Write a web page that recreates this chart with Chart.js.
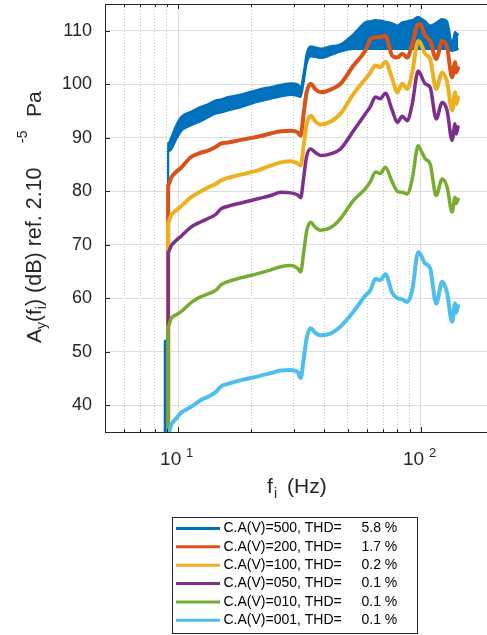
<!DOCTYPE html>
<html>
<head>
<meta charset="utf-8">
<script src="https://cdn.jsdelivr.net/npm/chart.js@4"></script>
<style>
html, body { margin:0; padding:0; overflow:hidden; background:#fff; }
#wrap { width:494px; height:635px; }
</style>
</head>
<body>
<div id="wrap"><canvas id="myChart" width="494" height="635"></canvas></div>
<script>
// frequencies (Hz)
var freq = [9.1, 9.1, 9.36, 9.81, 10.29, 11.31, 12.43, 13.28, 14.32, 15.01,
	16.04, 18.14, 21.30, 24.07, 26.47, 29.09, 31.07, 31.97, 32.89, 33.83,
	35.14, 36.84, 38.63, 42.45, 46.66, 52.77, 59.08, 61.94, 64.94, 68.08,
	71.38, 76.24, 79.93, 83.79, 87.85, 92.10, 97.48, 99.34, 104.1, 109.2,
	115.6, 122.3, 128.2, 134.4, 138.3, 139.6, 142.2];

// C.A(V)=500 : noisy band, upper and lower edge
var blueHi = [30, 89.0, 90.0, 92.3, 93.9, 94.9, 95.8, 96.3, 97.0, 97.2,
	97.6, 98.1, 99.0, 99.5, 99.9, 100.2, 100.0, 99.5, 102.2, 105.7,
	107.1, 106.9, 106.7, 107.1, 107.5, 109.4, 111.6, 111.8, 112.0, 111.9,
	111.7, 111.4, 111.0, 111.6, 111.8, 112.0, 112.6, 112.4, 111.8, 111.0,
	111.5, 112.2, 111.8, 107.8, 109.8, 109.6, 109.3];
var blueLo = [30, 87.5, 87.8, 89.6, 91.2, 92.3, 93.1, 93.8, 94.5, 94.7,
	95.1, 95.7, 96.7, 97.3, 97.7, 98.0, 97.8, 97.6, 100.3, 103.8,
	105.2, 105.1, 104.9, 105.4, 106.1, 106.6, 106.6, 106.6, 106.6, 106.6,
	106.6, 106.6, 106.6, 106.6, 106.6, 106.6, 106.6, 106.6, 106.6, 106.6,
	106.6, 106.6, 106.6, 106.2, 106.4, 106.4, 106.6];
var spikeFreq = [8.85, 8.85];
var spikeVals = [30, 52];

var redVals = [30, 81.1, 82.5, 83.6, 84.4, 86.4, 87.2, 87.6, 88.3, 88.9,
	89.1, 89.6, 90.2, 90.8, 91.2, 91.3, 91.0, 90.4, 94.5, 98.5,
	100.1, 99.0, 98.5, 99.0, 100.1, 103.5, 106.3, 108.4, 108.8, 108.8,
	109.1, 105.3, 105.0, 105.7, 105.0, 107.5, 111.2, 111.2, 109.1, 108.1,
	104.7, 108.1, 106.9, 101.3, 104.1, 102.2, 103.0];
var yellowVals = [30, 74.2, 75.5, 76.4, 77.2, 78.9, 80.0, 80.7, 81.4, 82.0,
	82.5, 83.1, 83.9, 84.8, 85.4, 85.6, 85.2, 84.8, 88.5, 92.5,
	94.1, 93.0, 92.5, 93.0, 94.5, 98.2, 101.0, 102.2, 103.5, 103.2,
	104.2, 101.0, 98.5, 100.1, 99.1, 102.2, 108.1, 107.8, 105.7, 104.7,
	99.1, 102.2, 100.4, 95.1, 98.5, 96.3, 97.5];
var purpleVals = [30, 68.6, 69.8, 70.8, 71.6, 73.3, 74.3, 74.9, 75.7, 76.7,
	77.2, 77.8, 78.6, 79.2, 79.8, 79.7, 79.3, 78.8, 82.5, 86.5,
	87.9, 87.2, 86.7, 87.0, 87.9, 91.3, 94.5, 95.8, 97.6, 97.3,
	98.3, 95.1, 92.9, 94.0, 93.2, 96.3, 102.5, 102.0, 100.1, 99.4,
	93.5, 96.6, 95.1, 89.5, 92.6, 90.7, 92.0];
var greenVals = [30, 54.7, 56.2, 56.9, 57.5, 59.2, 60.3, 60.8, 61.5, 62.5,
	63.1, 63.8, 64.6, 65.3, 65.9, 66.1, 65.6, 64.9, 68.5, 72.5,
	74.2, 73.2, 72.7, 73.2, 74.9, 78.3, 80.5, 81.8, 83.6, 83.3,
	84.5, 81.7, 80.0, 79.8, 79.5, 82.3, 88.5, 87.9, 86.1, 85.1,
	79.2, 82.3, 80.8, 76.1, 78.9, 77.7, 78.5];
var lightVals = [30, 34.5, 36.3, 37.5, 38.6, 39.7, 41.0, 41.6, 42.5, 43.5,
	44.0, 44.7, 45.4, 46.0, 46.5, 46.6, 46.2, 45.1, 48.5, 52.5,
	54.4, 53.5, 53.1, 53.4, 54.7, 57.5, 60.5, 61.5, 63.6, 63.4,
	64.5, 61.0, 60.0, 59.8, 59.3, 61.5, 68.6, 68.3, 66.5, 65.6,
	59.0, 63.1, 61.0, 55.6, 59.0, 57.3, 58.5];

// axis ticks
var xMajor = [10, 100];
var xExp = ['1', '2'];
var xMinor = [6, 7, 8, 9, 20, 30, 40, 50, 60, 70, 80, 90, 200];
var yTicks = [40, 50, 60, 70, 80, 90, 100, 110];

// legend
var legendNames = ['C.A(V)=500, THD=', 'C.A(V)=200, THD=', 'C.A(V)=100, THD=',
	'C.A(V)=050, THD=', 'C.A(V)=010, THD=', 'C.A(V)=001, THD='];
var legendThd = ['5.8 %', '1.7 %', '0.2 %', '0.1 %', '0.1 %', '0.1 %'];
var colors = ['#0072BD', '#D95319', '#EDB120', '#7E2F8E', '#77AC30', '#4DBEEE'];

var fam = '"Liberation Sans", Arial, Helvetica, sans-serif';
var axisColor = '#262626';
Chart.defaults.font.family = fam;

function pts(xs, ys) {
	return xs.map(function(f, i){ return {x: f, y: ys[i]}; });
}

function lineSet(vals, color, width, order) {
	return {
		data: pts(freq, vals),
		borderColor: color,
		backgroundColor: color,
		borderWidth: width,
		fill: false,
		order: order,
		clip: 0
	};
}

// axes box, inner ticks, tick labels, titles, legend
var decorPlugin = {
	id: 'decor',
	afterDraw: function(chart) {
		var ctx = chart.ctx;
		var area = chart.chartArea;
		var xs = chart.scales.x;
		var ys = chart.scales.y;
		ctx.save();
		ctx.strokeStyle = axisColor;
		ctx.lineWidth = 1;
		ctx.beginPath();
		ctx.moveTo(area.left, area.top + 0.5);
		ctx.lineTo(area.right, area.top + 0.5);
		xMajor.forEach(function(v){
			var px = Math.round(xs.getPixelForValue(v)) + 0.5;
			ctx.moveTo(px, area.bottom); ctx.lineTo(px, area.bottom - 5);
			ctx.moveTo(px, area.top); ctx.lineTo(px, area.top + 5);
		});
		xMinor.forEach(function(v){
			var px = Math.round(xs.getPixelForValue(v)) + 0.5;
			ctx.moveTo(px, area.bottom); ctx.lineTo(px, area.bottom - 3);
			ctx.moveTo(px, area.top); ctx.lineTo(px, area.top + 3);
		});
		yTicks.forEach(function(v){
			var py = Math.round(ys.getPixelForValue(v)) + 0.5;
			ctx.moveTo(area.left, py); ctx.lineTo(area.left + 5, py);
		});
		ctx.stroke();

		// x tick labels 10^n
		ctx.fillStyle = axisColor;
		ctx.textAlign = 'left';
		ctx.textBaseline = 'alphabetic';
		xMajor.forEach(function(v, i){
			var px = xs.getPixelForValue(v);
			ctx.font = '19px ' + fam;
			ctx.fillText('10', px - 18, 465);
			ctx.font = '13px ' + fam;
			ctx.fillText(xExp[i], px + 8, 457);
		});

		// x title
		ctx.font = '21px ' + fam;
		ctx.fillText('f', 267, 493);
		ctx.font = '14px ' + fam;
		ctx.fillText('i', 274, 498);
		ctx.font = '21px ' + fam;
		ctx.fillText('(Hz)', 287, 493);

		// y title (rotated)
		ctx.save();
		ctx.translate(41, 343);
		ctx.rotate(-Math.PI / 2);
		var pos = 0;
		function piece(txt, size, dy) {
			ctx.font = size + 'px ' + fam;
			ctx.fillText(txt, pos, dy);
			pos += ctx.measureText(txt).width;
		}
		piece('A', 21, 0);
		piece('y', 14, 5);
		piece('(f', 21, 0);
		piece('i', 14, 5);
		piece(') (dB) ref. 2.10', 21.5, 0);
		pos = 200;
		piece('-5', 14, -14);
		pos = 226;
		piece('Pa', 21, 0);
		ctx.restore();

		// legend box
		ctx.fillStyle = '#fff';
		ctx.fillRect(172, 517, 245, 116);
		ctx.strokeStyle = axisColor;
		ctx.lineWidth = 1;
		ctx.strokeRect(172.5, 517.5, 245, 116);
		ctx.textBaseline = 'middle';
		ctx.font = '14px ' + fam;
		for (var i = 0; i < legendNames.length; i++) {
			var y = 528.5 + i * 18.35;
			ctx.strokeStyle = colors[i];
			ctx.lineWidth = 3;
			ctx.beginPath();
			ctx.moveTo(176, y); ctx.lineTo(220, y);
			ctx.stroke();
			ctx.fillStyle = '#000';
			ctx.fillText(legendNames[i], 223.5, y);
			ctx.fillText(legendThd[i], 361.5, y);
		}
		ctx.restore();
	}
};

var ctx = document.getElementById('myChart').getContext('2d');
var myChart = new Chart(ctx, {
	type: 'line',
	data: {
		datasets: [
			{ data: pts(freq, blueLo), borderColor: colors[0], borderWidth: 2, fill: false, order: 10, clip: 0 },
			{ data: pts(freq, blueHi), borderColor: colors[0], backgroundColor: colors[0], borderWidth: 2, fill: '-1', order: 10, clip: 0 },
			{ data: pts(spikeFreq, spikeVals), borderColor: colors[0], borderWidth: 3, fill: false, order: 10, clip: 0 },
			lineSet(redVals, colors[1], 4, 5),
			lineSet(yellowVals, colors[2], 4, 4),
			lineSet(purpleVals, colors[3], 3.5, 3),
			lineSet(greenVals, colors[4], 3.5, 2),
			lineSet(lightVals, colors[5], 4, 1)
		]
	},
	options: {
		responsive: false,
		animation: false,
		devicePixelRatio: 1,
		layout: { padding: { top: 4, right: 0, left: 0, bottom: 0 } },
		plugins: { legend: { display: false }, tooltip: { enabled: false } },
		elements: {
			point: { radius: 0 },
			line: { cubicInterpolationMode: 'monotone', borderCapStyle: 'round', borderJoinStyle: 'round' }
		},
		scales: {
			x: {
				type: 'logarithmic', min: 5, max: 200, position: 'bottom',
				afterBuildTicks: function(s){ s.ticks = xMajor.map(function(v){ return {value: v}; }); },
				afterFit: function(s){ s.height = 203; s.paddingLeft = 0; s.paddingRight = 0; },
				ticks: { display: false },
				grid: { color: '#dedede', drawTicks: false },
				border: { color: axisColor, width: 1 }
			},
			xMinor: {
				type: 'logarithmic', min: 5, max: 200, position: 'bottom',
				afterBuildTicks: function(s){ s.ticks = xMinor.map(function(v){ return {value: v}; }); },
				afterFit: function(s){ s.height = 0; s.paddingLeft = 0; s.paddingRight = 0; },
				ticks: { display: false },
				grid: { color: '#c4c4c4', drawTicks: false, borderDash: [1, 2] },
				border: { display: false, dash: [1, 2] }
			},
			y: {
				min: 35, max: 115,
				afterBuildTicks: function(s){ s.ticks = yTicks.map(function(v){ return {value: v}; }); },
				afterFit: function(s){ s.width = 105; s.paddingTop = 0; s.paddingBottom = 0; },
				ticks: { padding: 13, color: axisColor, font: { size: 18, family: fam } },
				grid: { color: '#dedede', drawTicks: false },
				border: { color: axisColor, width: 1 }
			}
		}
	},
	plugins: [decorPlugin]
});
</script>
</body>
</html>
